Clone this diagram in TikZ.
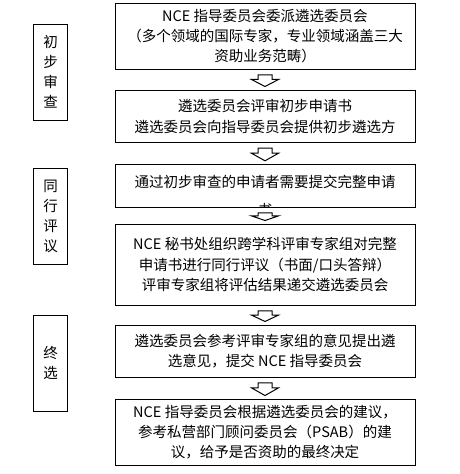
\documentclass[tikz,border=0pt]{standalone}
\usepackage{fontspec}
\setmainfont{Noto Sans CJK SC}
\usetikzlibrary{calc}
\tikzset{
  box/.style={draw=black, line width=1pt, minimum width=300pt, inner sep=0pt, align=center, font=\fontsize{14.5}{20.3}\selectfont},
  boxtext/.style={inner sep=0pt, align=center, font=\fontsize{14.5}{28}\selectfont},
  side/.style={draw=black, line width=1pt, minimum width=34.4pt, inner sep=0pt, align=center, font=\fontsize{14.5}{20}\selectfont},
  arr/.style={draw=black, line width=1pt, fill=white, line join=miter},
}
\newcommand\blockarrow[2]{%
  \draw[arr] let \p1=(#1.south), \p2=(#2.north), \n1={\y1-5pt}, \n2={\y2+3pt}, \n3={\n2+0.6*(\n1-\n2)} in
    (\x1-7pt,\n1) -- (\x1+7pt,\n1) -- (\x1+7pt,\n3) -- (\x1+13.5pt,\n3) -- (\x1,\n2) -- (\x1-13.5pt,\n3) -- (\x1-7pt,\n3) -- cycle;}
\begin{document}
\begin{tikzpicture}[x=1pt,y=-1pt]
\useasboundingbox (0,0) rectangle (460,474);
\fill[white] (0,0) rectangle (460,474);

% main flow boxes
\node[box, minimum height=66.3pt] (b1) at (265,36.15) {NCE 指导委员会委派遴选委员会\\（多个领域的国际专家，专业领域涵盖三大\\资助业务范畴）};
\node[box, minimum height=52.7pt] (b2) at (265,116.35) {遴选委员会评审初步申请书\\遴选委员会向指导委员会提供初步遴选方};
\node[box, minimum height=43pt] (b3) at (265,185.8) {};
\begin{scope}
  \clip ([shift={(1,-1)}]b3.south west) rectangle ([shift={(-1,1)}]b3.north east);
  \node[boxtext] (b3t) at (265,195.8) {通过初步审查的申请者需要提交完整申请\\书};
\end{scope}
\node[box, minimum height=81.3pt] (b4) at (265,264.65) {NCE 秘书处组织跨学科评审专家组对完整\\申请书进行同行评议（书面/口头答辩）\\评审专家组将评估结果递交遴选委员会};
\node[box, minimum height=52.3pt] (b5) at (265,351.15) {遴选委员会参考评审专家组的意见提出遴\\选意见，提交 NCE 指导委员会};
\node[box, minimum height=66.7pt] (b6) at (265,432.35) {NCE 指导委员会根据遴选委员会的建议，\\参考私营部门顾问委员会（PSAB）的建\\议，给予是否资助的最终决定};

% stage boxes
\node[side, minimum height=96pt] (s1) at (50.5,72) {初\\步\\审\\查};
\node[side, minimum height=96pt] (s2) at (50.5,216.3) {同\\行\\评\\议};
\node[side, minimum height=95.3pt] (s3) at (50.5,363.35) {终\\选};

% block arrows
\blockarrow{b1}{b2}
\blockarrow{b2}{b3}
\blockarrow{b3}{b4}
\blockarrow{b4}{b5}
\blockarrow{b5}{b6}
\end{tikzpicture}
\end{document}
